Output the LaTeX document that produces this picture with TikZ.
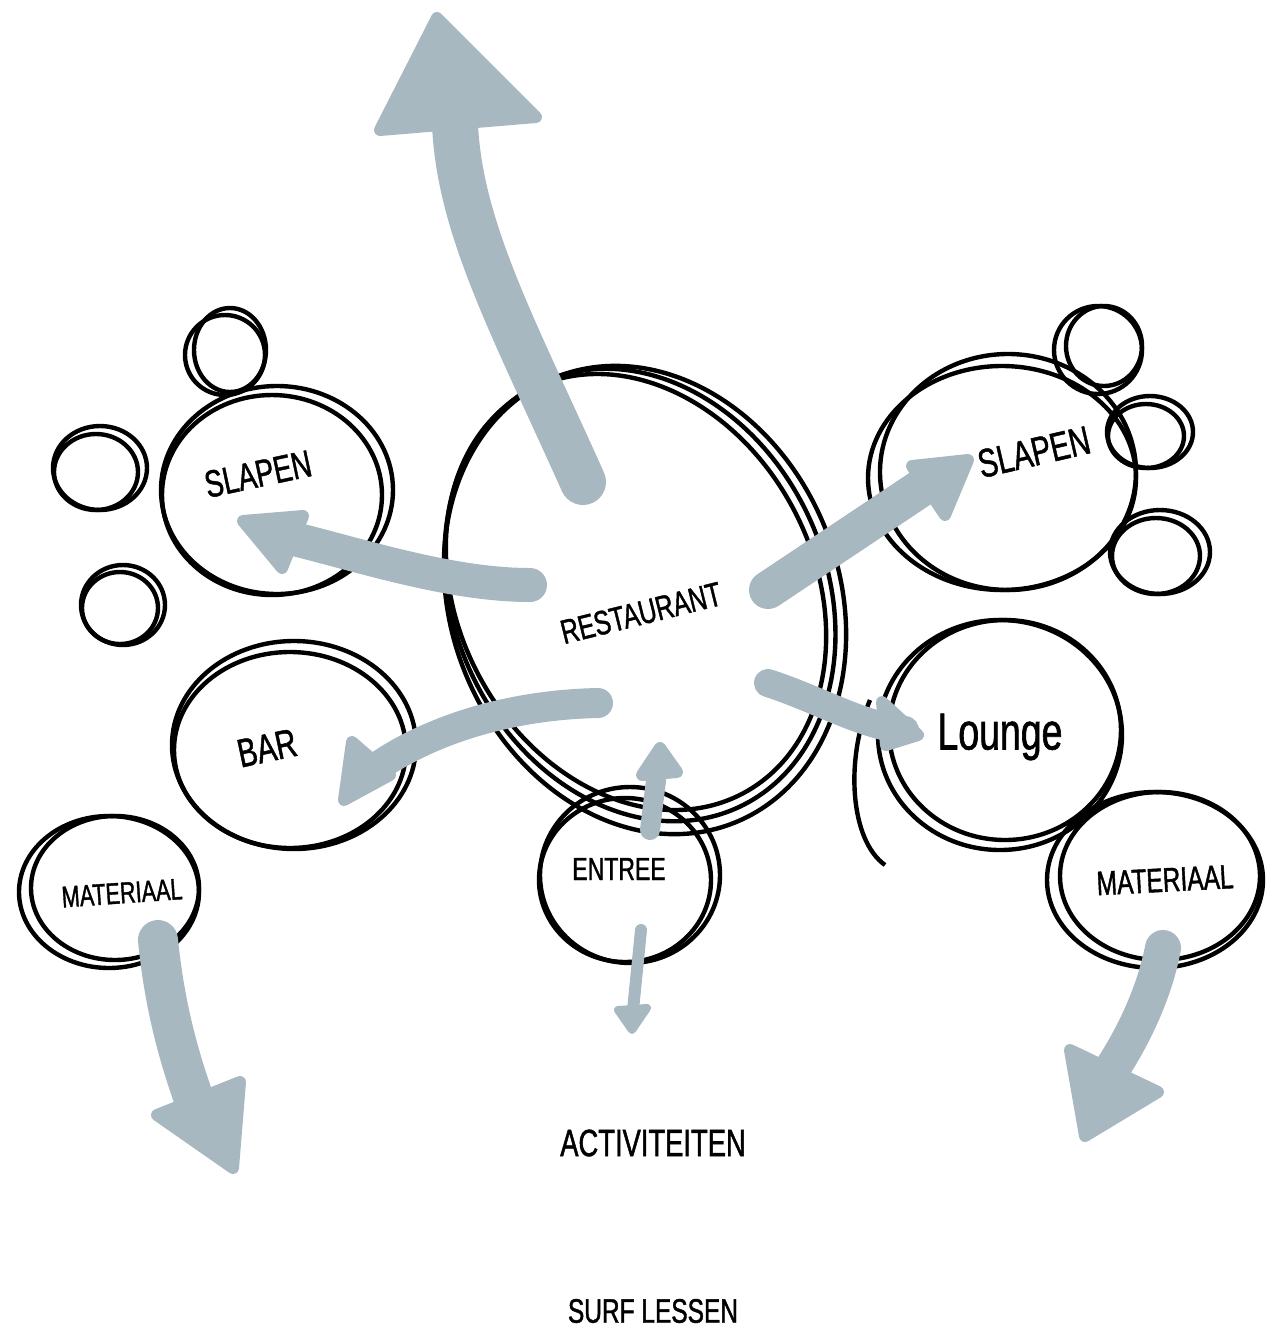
\documentclass[tikz,border=0pt]{standalone}
\usepackage{fontspec}
\newfontfamily\hand[FakeStretch=0.72,FakeBold=1.2]{Liberation Sans}
\definecolor{arrowgray}{HTML}{A8B8C1}
\begin{document}
\begin{tikzpicture}[x=0.5pt,y=-0.5pt,
  ink/.style={draw=black,line width=2.2pt},
  body/.style={draw=arrowgray,line cap=round,line join=round},
  head/.style={draw=arrowgray,fill=arrowgray,line width=6pt,line join=round},
  lbl/.style={font=\hand,text=black,inner sep=0pt}]
\useasboundingbox (0,0) rectangle (1281,1335);

% ---------- black circles ----------
% restaurant
\draw[ink,rotate around={25:(640,595)}] (640,595) ellipse [x radius=186,y radius=234];
\draw[ink,rotate around={22:(645,600)}] (645,600) ellipse [x radius=194,y radius=240];
\draw[ink,rotate around={28:(636,592)}] (636,592) ellipse [x radius=178,y radius=228];
% left slapen
\draw[ink] (277,490) ellipse [x radius=116,y radius=104];
\draw[ink] (272,495) ellipse [x radius=110,y radius=100];
% left small circles
\draw[ink] (225,355) ellipse [x radius=40,y radius=40];
\draw[ink] (230,350) ellipse [x radius=36,y radius=42];
\draw[ink] (100,468) ellipse [x radius=47,y radius=42];
\draw[ink] (96,472) ellipse [x radius=42,y radius=38];
\draw[ink] (123,605) ellipse [x radius=42,y radius=40];
\draw[ink] (120,608) ellipse [x radius=38,y radius=36];
% bar
\draw[ink] (294,745) ellipse [x radius=122,y radius=104];
\draw[ink] (290,750) ellipse [x radius=116,y radius=98];
% materiaal left
\draw[ink] (109,892) ellipse [x radius=90,y radius=76];
\draw[ink] (115,888) ellipse [x radius=84,y radius=72];
% entree
\draw[ink] (630,875) ellipse [x radius=90,y radius=88];
\draw[ink] (625,880) ellipse [x radius=86,y radius=82];
% right slapen
\draw[ink] (1002,478) ellipse [x radius=134,y radius=112];
\draw[ink] (1008,472) ellipse [x radius=128,y radius=118];
% right small circles
\draw[ink] (1098,350) ellipse [x radius=44,y radius=44];
\draw[ink] (1104,346) ellipse [x radius=38,y radius=40];
\draw[ink] (1150,432) ellipse [x radius=43,y radius=36];
\draw[ink] (1146,436) ellipse [x radius=38,y radius=32];
\draw[ink] (1160,552) ellipse [x radius=50,y radius=42];
\draw[ink] (1156,556) ellipse [x radius=44,y radius=38];
% lounge
\draw[ink] (1000,735) ellipse [x radius=122,y radius=115];
\draw[ink] (1005,730) ellipse [x radius=116,y radius=110];
\draw[ink] (885,865) .. controls (850,840) and (845,760) .. (870,700);
% materiaal right
\draw[ink] (1155,880) ellipse [x radius=108,y radius=88];
\draw[ink] (1160,876) ellipse [x radius=100,y radius=84];

% ---------- gray arrows ----------
% big up arrow
\coordinate (ua) at (583,482);
\coordinate (ub) at (455,125);
\draw[body,line width=23pt] (ua) .. controls (515,330) and (460,230) .. (ub);
\fill[head] (380,130) -- (437,18) -- (536,117) -- cycle;
% to left slapen
\coordinate (la) at (530,585);
\coordinate (lb) at (290,538);
\draw[body,line width=17pt] (la) .. controls (450,585) and (360,555) .. (lb);
\fill[head] (243,521) -- (303,516) -- (282,568) -- cycle;
% to bar
\coordinate (ba) at (598,703);
\coordinate (bb) at (370,772);
\draw[body,line width=15pt] (ba) .. controls (500,705) and (420,735) .. (bb);
\fill[head] (352,742) -- (390,775) -- (344,800) -- cycle;
% to right slapen
\coordinate (ra) at (768,590);
\coordinate (rb) at (930,482);
\draw[body,line width=19pt] (ra) -- (rb);
\fill[head] (912,466) -- (968,460) -- (945,515) -- cycle;
% to lounge
\coordinate (oa) at (768,683);
\coordinate (ob) at (905,730);
\draw[body,line width=14pt] (oa) .. controls (820,700) and (860,725) .. (ob);
\fill[head] (882,702) -- (918,735) -- (886,745) -- cycle;
% entree up
\coordinate (ea) at (650,830);
\coordinate (eb) at (657,772);
\draw[body,line width=10pt] (ea) -- (eb);
\fill[head] (642,775) -- (660,748) -- (677,772) -- cycle;
% entree down
\coordinate (da) at (641,930);
\coordinate (db) at (633,1010);
\draw[body,line width=6pt] (da) -- (db);
\fill[head,line width=4pt] (618,1010) -- (632,1030) -- (647,1008) -- cycle;
% materiaal left down
\coordinate (ma) at (158,940);
\coordinate (mb) at (196,1105);
\draw[body,line width=20pt] (ma) .. controls (165,1010) and (180,1060) .. (mb);
\fill[head] (157,1115) -- (240,1082) -- (233,1168) -- cycle;
% materiaal right down
\coordinate (na) at (1163,948);
\coordinate (nb) at (1108,1075);
\draw[body,line width=18pt] (na) .. controls (1155,990) and (1135,1035) .. (nb);
\fill[head] (1070,1050) -- (1158,1092) -- (1085,1136) -- cycle;

% ---------- labels ----------
\node[lbl,font=\hand\fontsize{19}{19}\selectfont,rotate=12] (slapenL) at (258,474) {SLAPEN};
\node[lbl,font=\hand\fontsize{17}{17}\selectfont,rotate=14] (rest) at (641,613) {RESTAURANT};
\node[lbl,font=\hand\fontsize{20}{20}\selectfont,rotate=13] (slapenR) at (1034,452) {SLAPEN};
\node[lbl,font=\hand\fontsize{20}{20}\selectfont,rotate=12] (bar) at (267,748) {BAR};
\node[lbl,font=\hand\fontsize{26}{26}\selectfont] (lounge) at (1000,737) {Lounge};
\node[lbl,font=\hand\fontsize{15}{15}\selectfont,rotate=4] (matL) at (122,893) {MATERIAAL};
\node[lbl,font=\hand\fontsize{17}{17}\selectfont,rotate=3] (matR) at (1165,880) {MATERIAAL};
\node[lbl,font=\hand\fontsize{16}{16}\selectfont] (entree) at (619,869) {ENTREE};
\node[lbl,font=\hand\fontsize{19}{19}\selectfont] (act) at (653,1143) {ACTIVITEITEN};
\node[lbl,font=\hand\fontsize{17}{17}\selectfont] (surf) at (653,1311) {SURF LESSEN};
\end{tikzpicture}
\end{document}
